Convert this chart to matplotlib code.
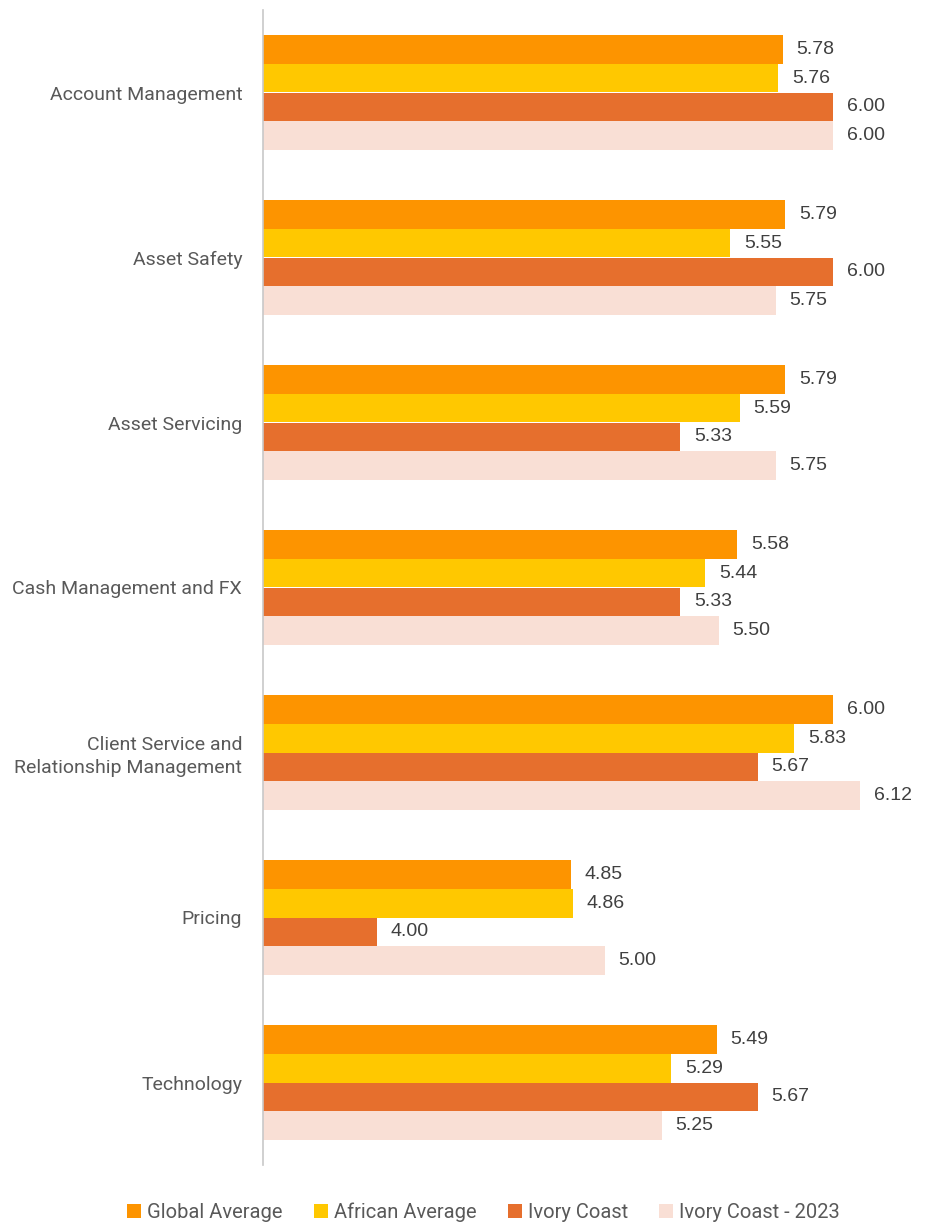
import matplotlib
matplotlib.use("Agg")
import matplotlib.pyplot as plt
from matplotlib.patches import Patch
import numpy as np

categories = [
    "Account Management",
    "Asset Safety",
    "Asset Servicing",
    "Cash Management and FX",
    "Client Service and\nRelationship Management",
    "Pricing",
    "Technology",
]
series_names = ["Global Average", "African Average", "Ivory Coast", "Ivory Coast - 2023"]
global_avg = [5.78, 5.79, 5.79, 5.58, 6.00, 4.85, 5.49]
african_avg = [5.76, 5.55, 5.59, 5.44, 5.83, 4.86, 5.29]
ivory_coast = [6.00, 6.00, 5.33, 5.33, 5.67, 4.00, 5.67]
ivory_coast_2023 = [6.00, 5.75, 5.75, 5.50, 6.12, 5.00, 5.25]

colors = ["#FD9400", "#FFC800", "#E66F2D", "#F9DFD5"]
label_font = ["Roboto", "DejaVu Sans"]
value_font = ["Liberation Sans", "DejaVu Sans"]
text_color = "#595959"

W, H = 930, 1225
fig = plt.figure(figsize=(W / 100, H / 100), dpi=100)
ax = fig.add_axes([263 / W, 1 - 1165 / H, (W - 263) / W, (1165 - 10) / H])

x_min = 3.5
px_per_unit = 228
ax.set_xlim(x_min, x_min + (W - 263) / px_per_unit)
ax.set_ylim(len(categories) - 0.5, -0.5)

bar_h = 0.173
data = [global_avg, african_avg, ivory_coast, ivory_coast_2023]
y = np.arange(len(categories))
for i, (vals, col) in enumerate(zip(data, colors)):
    pos = y + (i - 1.5) * bar_h
    ax.barh(pos, np.array(vals) - x_min, left=x_min, height=bar_h, color=col, edgecolor="none")
    for p, v in zip(pos, vals):
        ax.text(v + 0.06, p, f"{v:.2f}", va="center", ha="left",
                fontsize=14, color="#404040", family=value_font)

ax.set_yticks(y)
ax.set_yticklabels(categories, fontsize=14, color=text_color, family=label_font, linespacing=1.35)
ax.tick_params(axis="y", length=0, pad=15)
for lbl in ax.get_yticklabels():
    lbl.set_horizontalalignment("right")
ax.set_xticks([])
for s in ["top", "right", "bottom"]:
    ax.spines[s].set_visible(False)
ax.spines["left"].set_color("#C8C8C8")
ax.spines["left"].set_linewidth(1.2)

handles = [Patch(facecolor=c, edgecolor="none") for c in colors]
fig.legend(handles, series_names, loc="center", bbox_to_anchor=(0.52, 1 - 1212 / H),
           ncol=4, frameon=False, handlelength=0.7, handleheight=0.7, handletextpad=0.3,
           columnspacing=1.55, prop={"family": label_font, "size": 14.5}, labelcolor=text_color)

fig.savefig("out.png", dpi=100)
